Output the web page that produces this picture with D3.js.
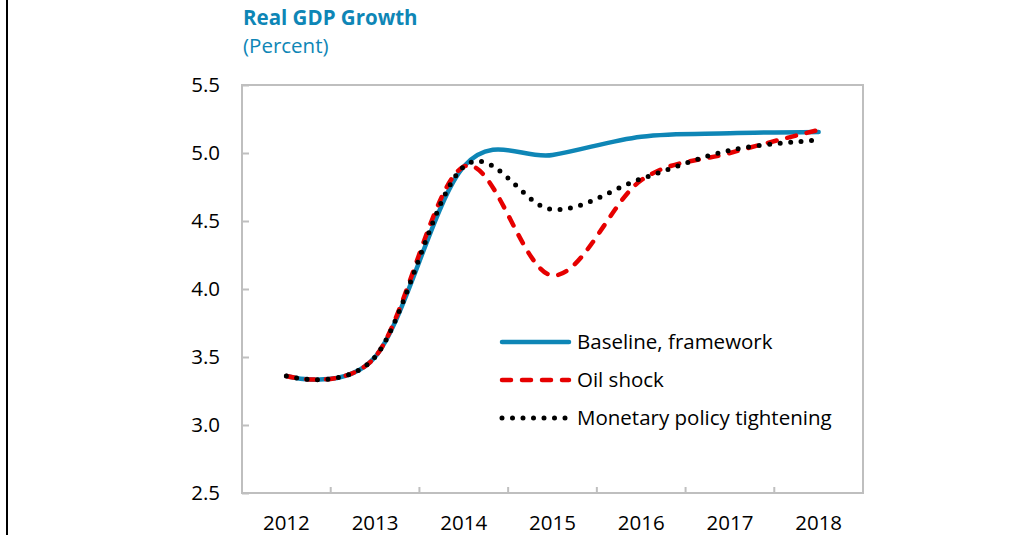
<!DOCTYPE html>
<html>
<head>
<meta charset="utf-8">
<script src="https://cdn.jsdelivr.net/npm/d3@7"></script>
<style>
    body { margin: 0; background: #fff; }
    svg { display: block; font-family: "Open Sans", sans-serif; }
</style>
</head>
<body>
<div id="chart"></div>
<script>
    // chart values
    var years = ["2012", "2013", "2014", "2015", "2016", "2017", "2018"];
    var baseline = [3.36, 3.50, 4.90, 4.985, 5.12, 5.145, 5.155];
    var oilShock = [3.36, 3.50, 4.90, 4.10, 4.80, 5.00, 5.17];
    var monetary = [3.36, 3.50, 4.90, 4.585, 4.81, 5.02, 5.095];
    var yTicks = [2.5, 3.0, 3.5, 4.0, 4.5, 5.0, 5.5];
    var seriesNames = ["Baseline, framework", "Oil shock", "Monetary policy tightening"];

    var width = 1032, height = 535;
    var margin = { top: 85, right: 169, bottom: 42, left: 242 };
    var fontSize = "20.5px";

    var svg = d3.select("#chart").append("svg")
        .attr("width", width)
        .attr("height", height);

    // black rule on the left edge
    svg.append("line")
        .attr("x1", 7).attr("x2", 7)
        .attr("y1", 0).attr("y2", height)
        .attr("stroke", "#000")
        .attr("stroke-width", 2);

    // title
    svg.append("text")
        .attr("x", 243).attr("y", 24.5)
        .attr("fill", "#0E86B6")
        .style("font-size", fontSize)
        .style("font-weight", "bold")
        .text("Real GDP Growth");
    svg.append("text")
        .attr("x", 243).attr("y", 52.5)
        .attr("fill", "#0E86B6")
        .style("font-size", fontSize)
        .text("(Percent)");

    var x = d3.scaleBand()
        .domain(years)
        .range([margin.left, width - margin.right]);

    var y = d3.scaleLinear()
        .domain([2.5, 5.5])
        .range([height - margin.bottom, margin.top]);

    // plot frame
    svg.append("rect")
        .attr("x", margin.left)
        .attr("y", margin.top)
        .attr("width", width - margin.left - margin.right)
        .attr("height", height - margin.top - margin.bottom)
        .attr("fill", "none")
        .attr("stroke", "#BFBFBF")
        .attr("stroke-width", 2);

    // y axis: ticks point inward
    var yAxis = svg.append("g")
        .attr("transform", "translate(" + margin.left + ",0)")
        .call(d3.axisRight(y).tickValues(yTicks).tickSize(7).tickFormat(d3.format(".1f")));
    yAxis.select(".domain").remove();
    yAxis.selectAll(".tick line").attr("stroke", "#BFBFBF").attr("stroke-width", 2);
    yAxis.selectAll(".tick text")
        .attr("x", -22)
        .attr("text-anchor", "end")
        .attr("fill", "#000")
        .style("font-size", fontSize)
        .style("font-family", "'Open Sans', sans-serif");

    // x axis: tick marks between categories, labels at band centres
    var xAxis = svg.append("g")
        .attr("transform", "translate(0," + (height - margin.bottom) + ")");
    xAxis.selectAll("line")
        .data(years.slice(1))
        .enter().append("line")
        .attr("x1", function(d) { return x(d); })
        .attr("x2", function(d) { return x(d); })
        .attr("y1", 0).attr("y2", -6)
        .attr("stroke", "#BFBFBF")
        .attr("stroke-width", 2);
    xAxis.selectAll("text")
        .data(years)
        .enter().append("text")
        .attr("x", function(d) { return x(d) + x.bandwidth() / 2; })
        .attr("y", 37)
        .attr("text-anchor", "middle")
        .style("font-size", fontSize)
        .text(function(d) { return d; });

    var series = [
        { name: seriesNames[0], values: baseline, color: "#0E86B6", dash: null, w: 4.5 },
        { name: seriesNames[1], values: oilShock, color: "#E60000", dash: "9 11", w: 4.5 },
        { name: seriesNames[2], values: monetary, color: "#000", dash: "0 10.5", w: 5 }
    ];

    // Excel style smoothed line
    var line = d3.line()
        .x(function(d, i) { return x(years[i]) + x.bandwidth() / 2; })
        .y(function(d) { return y(d); })
        .curve(d3.curveCardinal.tension(0));

    svg.selectAll(".series")
        .data(series)
        .enter().append("path")
        .attr("class", "series")
        .attr("d", function(d) { return line(d.values); })
        .attr("fill", "none")
        .attr("stroke", function(d) { return d.color; })
        .attr("stroke-width", function(d) { return d.w; })
        .attr("stroke-linecap", "round")
        .attr("stroke-dasharray", function(d) { return d.dash; });

    // legend
    var legend = svg.selectAll(".legend")
        .data(series)
        .enter().append("g")
        .attr("class", "legend")
        .attr("transform", function(d, i) { return "translate(502," + (342 + i * 38) + ")"; });
    legend.append("line")
        .attr("x1", 0).attr("x2", 67)
        .attr("stroke", function(d) { return d.color; })
        .attr("stroke-width", function(d) { return d.w; })
        .attr("stroke-linecap", "round")
        .attr("stroke-dasharray", function(d) { return d.dash; });
    legend.append("text")
        .attr("x", 75)
        .attr("y", 7)
        .style("font-size", fontSize)
        .text(function(d) { return d.name; });
</script>
</body>
</html>
